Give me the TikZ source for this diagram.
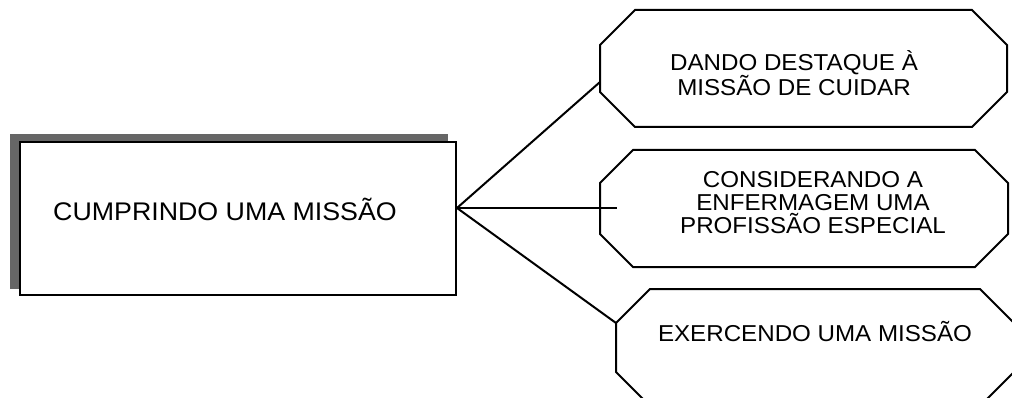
\documentclass[tikz,border=0pt]{standalone}
\usepackage{fontspec}
\setmainfont{Liberation Sans}
\newfontfamily\labfont[FakeStretch=1.05]{Liberation Sans}
\begin{document}
\begin{tikzpicture}[x=1pt,y=-1pt,
  line join=miter,
  outl/.style={draw, line width=2pt},
  conn/.style={draw, line width=2pt},
  lbl/.style={align=center, inner sep=0pt, font=\labfont\fontsize{23}{23}\selectfont},
  mainlbl/.style={inner sep=0pt, font=\labfont\fontsize{25.5}{26}\selectfont}]
\useasboundingbox (0,0) rectangle (1012,398);
\clip (0,0) rectangle (1012,398);
% shadow of main box
\fill[black!60] (10,134) rectangle (448,289);
% main box
\node[outl, fill=white, minimum width=436pt, minimum height=153pt, inner sep=0pt] (main) at (238,218.5) {};
\node[mainlbl] (maintext) at (225,209) {CUMPRINDO UMA MISSÃO};
% octagons
\draw[outl] (635,10) -- (972,10) -- (1007,45) -- (1007,92) -- (972,127) -- (635,127) -- (600,92) -- (600,45) -- cycle;
\draw[outl] (633,150) -- (975,150) -- (1008,183) -- (1008,234) -- (975,267) -- (633,267) -- (600,234) -- (600,183) -- cycle;
\draw[outl] (650,289) -- (980,289) -- (1014,323) -- (1014,372) -- (980,406) -- (650,406) -- (616,372) -- (616,323) -- cycle;
\node[lbl] (t1) at (794,73) {DANDO DESTAQUE À\\MISSÃO DE CUIDAR};
\node[lbl] (t2) at (813,203) {CONSIDERANDO A\\ENFERMAGEM UMA\\PROFISSÃO ESPECIAL};
\node[lbl] (t3) at (815,332) {EXERCENDO UMA MISSÃO};
% connectors
\coordinate (J) at ([yshift=10.5pt]main.east);
\coordinate (c1) at (600,82);
\coordinate (c2) at (617,208);
\coordinate (c3) at (616,323);
\draw[conn] (J) -- (c1);
\draw[conn] (J) -- (c2);
\draw[conn] (J) -- (c3);
\end{tikzpicture}
\end{document}
